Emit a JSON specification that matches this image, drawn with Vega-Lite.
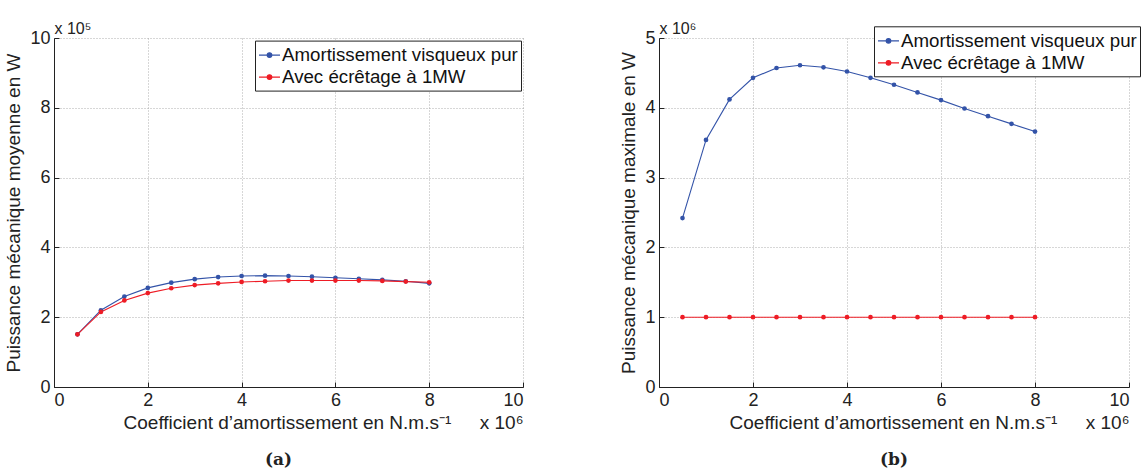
{
  "$schema": "https://vega.github.io/schema/vega-lite/v6.json",
  "background": "white",
  "padding": {"left": 4, "top": 20, "right": 0, "bottom": 0},
  "config": {
    "font": "Liberation Sans",
    "view": {"stroke": null},
    "axis": {
      "labelFont": "Liberation Sans", "labelFontSize": 18, "labelColor": "#222",
      "titleFont": "Liberation Sans", "titleFontSize": 19, "titleFontWeight": "normal", "titleColor": "#222",
      "domainColor": "#222", "tickColor": "#222", "tickSize": -5, "labelPadding": 9,
      "gridColor": "#999", "gridDash": [1, 2], "gridWidth": 0.8
    },
    "legend": {
      "orient": "none", "title": null,
      "labelFont": "Liberation Sans", "labelFontSize": 18.7, "labelColor": "#111", "labelLimit": 0,
      "strokeColor": "#222", "fillColor": "white", "padding": 3, "rowPadding": 0,
      "symbolType": "M-1,0H1M-0.22,0A0.22,0.22,0,1,1,0.22,0A0.22,0.22,0,1,1,-0.22,0",
      "symbolSize": 441, "symbolStrokeWidth": 1.2, "labelOffset": 1
    }
  },
  "datasets": {
    "avg": [
      {"c": 500000, "p": 151000, "serie": "Amortissement visqueux pur"},
      {"c": 1000000, "p": 220000, "serie": "Amortissement visqueux pur"},
      {"c": 1500000, "p": 259000, "serie": "Amortissement visqueux pur"},
      {"c": 2000000, "p": 284000, "serie": "Amortissement visqueux pur"},
      {"c": 2500000, "p": 299000, "serie": "Amortissement visqueux pur"},
      {"c": 3000000, "p": 309000, "serie": "Amortissement visqueux pur"},
      {"c": 3500000, "p": 315000, "serie": "Amortissement visqueux pur"},
      {"c": 4000000, "p": 318000, "serie": "Amortissement visqueux pur"},
      {"c": 4500000, "p": 319000, "serie": "Amortissement visqueux pur"},
      {"c": 5000000, "p": 318000, "serie": "Amortissement visqueux pur"},
      {"c": 5500000, "p": 316000, "serie": "Amortissement visqueux pur"},
      {"c": 6000000, "p": 313000, "serie": "Amortissement visqueux pur"},
      {"c": 6500000, "p": 310000, "serie": "Amortissement visqueux pur"},
      {"c": 7000000, "p": 307000, "serie": "Amortissement visqueux pur"},
      {"c": 7500000, "p": 303000, "serie": "Amortissement visqueux pur"},
      {"c": 8000000, "p": 297000, "serie": "Amortissement visqueux pur"},
      {"c": 500000, "p": 151000, "serie": "Avec écrêtage à 1MW"},
      {"c": 1000000, "p": 215000, "serie": "Avec écrêtage à 1MW"},
      {"c": 1500000, "p": 248000, "serie": "Avec écrêtage à 1MW"},
      {"c": 2000000, "p": 269000, "serie": "Avec écrêtage à 1MW"},
      {"c": 2500000, "p": 283000, "serie": "Avec écrêtage à 1MW"},
      {"c": 3000000, "p": 292000, "serie": "Avec écrêtage à 1MW"},
      {"c": 3500000, "p": 297000, "serie": "Avec écrêtage à 1MW"},
      {"c": 4000000, "p": 301000, "serie": "Avec écrêtage à 1MW"},
      {"c": 4500000, "p": 303000, "serie": "Avec écrêtage à 1MW"},
      {"c": 5000000, "p": 305000, "serie": "Avec écrêtage à 1MW"},
      {"c": 5500000, "p": 305000, "serie": "Avec écrêtage à 1MW"},
      {"c": 6000000, "p": 305000, "serie": "Avec écrêtage à 1MW"},
      {"c": 6500000, "p": 305000, "serie": "Avec écrêtage à 1MW"},
      {"c": 7000000, "p": 304000, "serie": "Avec écrêtage à 1MW"},
      {"c": 7500000, "p": 302000, "serie": "Avec écrêtage à 1MW"},
      {"c": 8000000, "p": 300000, "serie": "Avec écrêtage à 1MW"}
    ],
    "max": [
      {"c": 500000, "p": 2420000, "serie": "Amortissement visqueux pur"},
      {"c": 1000000, "p": 3540000, "serie": "Amortissement visqueux pur"},
      {"c": 1500000, "p": 4120000, "serie": "Amortissement visqueux pur"},
      {"c": 2000000, "p": 4430000, "serie": "Amortissement visqueux pur"},
      {"c": 2500000, "p": 4570000, "serie": "Amortissement visqueux pur"},
      {"c": 3000000, "p": 4610000, "serie": "Amortissement visqueux pur"},
      {"c": 3500000, "p": 4580000, "serie": "Amortissement visqueux pur"},
      {"c": 4000000, "p": 4520000, "serie": "Amortissement visqueux pur"},
      {"c": 4500000, "p": 4430000, "serie": "Amortissement visqueux pur"},
      {"c": 5000000, "p": 4330000, "serie": "Amortissement visqueux pur"},
      {"c": 5500000, "p": 4220000, "serie": "Amortissement visqueux pur"},
      {"c": 6000000, "p": 4110000, "serie": "Amortissement visqueux pur"},
      {"c": 6500000, "p": 3990000, "serie": "Amortissement visqueux pur"},
      {"c": 7000000, "p": 3880000, "serie": "Amortissement visqueux pur"},
      {"c": 7500000, "p": 3770000, "serie": "Amortissement visqueux pur"},
      {"c": 8000000, "p": 3660000, "serie": "Amortissement visqueux pur"},
      {"c": 500000, "p": 1000000, "serie": "Avec écrêtage à 1MW"},
      {"c": 1000000, "p": 1000000, "serie": "Avec écrêtage à 1MW"},
      {"c": 1500000, "p": 1000000, "serie": "Avec écrêtage à 1MW"},
      {"c": 2000000, "p": 1000000, "serie": "Avec écrêtage à 1MW"},
      {"c": 2500000, "p": 1000000, "serie": "Avec écrêtage à 1MW"},
      {"c": 3000000, "p": 1000000, "serie": "Avec écrêtage à 1MW"},
      {"c": 3500000, "p": 1000000, "serie": "Avec écrêtage à 1MW"},
      {"c": 4000000, "p": 1000000, "serie": "Avec écrêtage à 1MW"},
      {"c": 4500000, "p": 1000000, "serie": "Avec écrêtage à 1MW"},
      {"c": 5000000, "p": 1000000, "serie": "Avec écrêtage à 1MW"},
      {"c": 5500000, "p": 1000000, "serie": "Avec écrêtage à 1MW"},
      {"c": 6000000, "p": 1000000, "serie": "Avec écrêtage à 1MW"},
      {"c": 6500000, "p": 1000000, "serie": "Avec écrêtage à 1MW"},
      {"c": 7000000, "p": 1000000, "serie": "Avec écrêtage à 1MW"},
      {"c": 7500000, "p": 1000000, "serie": "Avec écrêtage à 1MW"},
      {"c": 8000000, "p": 1000000, "serie": "Avec écrêtage à 1MW"}
    ]
  },
  "hconcat": [
    {
      "width": 469, "height": 349,
      "title": {"text": "(a)", "orient": "bottom", "frame": "group", "dx": -10, "font": "DejaVu Serif", "fontSize": 17, "fontWeight": "bold", "offset": 20, "color": "#222"},
      "data": {"name": "avg"},
      "layer": [
        {
          "mark": {"type": "line", "strokeWidth": 1.1, "point": {"filled": true, "size": 22}},
          "encoding": {
            "x": {"field": "c", "type": "quantitative", "scale": {"domain": [0, 10000000]},
              "axis": {"values": [0, 2000000, 4000000, 6000000, 8000000, 10000000], "labelExpr": "format(datum.value/1e6,'d')",
                "title": "Coefficient d’amortissement en N.m.s⁻¹\u2003\u2002x 10⁶", "titleAnchor": "end", "titlePadding": 4}},
            "y": {"field": "p", "type": "quantitative", "scale": {"domain": [0, 1000000]},
              "axis": {"values": [0, 200000, 400000, 600000, 800000, 1000000], "labelExpr": "format(datum.value/1e5,'d')",
                "title": "Puissance mécanique moyenne en W", "titlePadding": 6}},
            "color": {"field": "serie", "type": "nominal",
              "scale": {"domain": ["Amortissement visqueux pur", "Avec écrêtage à 1MW"], "range": ["#3353a8", "#ee1c25"]},
              "legend": {"legendX": 201, "legendY": 2.6}}
          }
        },
        {
          "mark": {"type": "point", "opacity": 0},
          "encoding": {
            "x": {"field": "c", "type": "quantitative", "scale": {"domain": [0, 10000000]},
              "axis": {"orient": "top", "title": "x 10⁵", "labels": false, "ticks": false, "domain": false, "grid": false,
                "titleAnchor": "start", "titlePadding": 2, "titleFontSize": 16}}
          }
        }
      ],
      "resolve": {"axis": {"x": "independent"}}
    },
    {
      "width": 470, "height": 349,
      "title": {"text": "(b)", "orient": "bottom", "frame": "group", "font": "DejaVu Serif", "fontSize": 17, "fontWeight": "bold", "offset": 20, "color": "#222"},
      "data": {"name": "max"},
      "layer": [
        {
          "mark": {"type": "line", "strokeWidth": 1.1, "point": {"filled": true, "size": 22}},
          "encoding": {
            "x": {"field": "c", "type": "quantitative", "scale": {"domain": [0, 10000000]},
              "axis": {"values": [0, 2000000, 4000000, 6000000, 8000000, 10000000], "labelExpr": "format(datum.value/1e6,'d')",
                "title": "Coefficient d’amortissement en N.m.s⁻¹\u2003\u2002x 10⁶", "titleAnchor": "end", "titlePadding": 4}},
            "y": {"field": "p", "type": "quantitative", "scale": {"domain": [0, 5000000]},
              "axis": {"values": [0, 1000000, 2000000, 3000000, 4000000, 5000000], "labelExpr": "format(datum.value/1e6,'d')",
                "title": "Puissance mécanique maximale en W", "titlePadding": 6}},
            "color": {"field": "serie", "type": "nominal",
              "scale": {"domain": ["Amortissement visqueux pur", "Avec écrêtage à 1MW"], "range": ["#3353a8", "#ee1c25"]},
              "legend": {"legendX": 215, "legendY": -11.7}}
          }
        },
        {
          "mark": {"type": "point", "opacity": 0},
          "encoding": {
            "x": {"field": "c", "type": "quantitative", "scale": {"domain": [0, 10000000]},
              "axis": {"orient": "top", "title": "x 10⁶", "labels": false, "ticks": false, "domain": false, "grid": false,
                "titleAnchor": "start", "titlePadding": 2, "titleFontSize": 16}}
          }
        }
      ],
      "resolve": {"axis": {"x": "independent"}}
    }
  ],
  "spacing": 95,
  "resolve": {"scale": {"color": "independent"}, "legend": {"color": "independent"}}
}
